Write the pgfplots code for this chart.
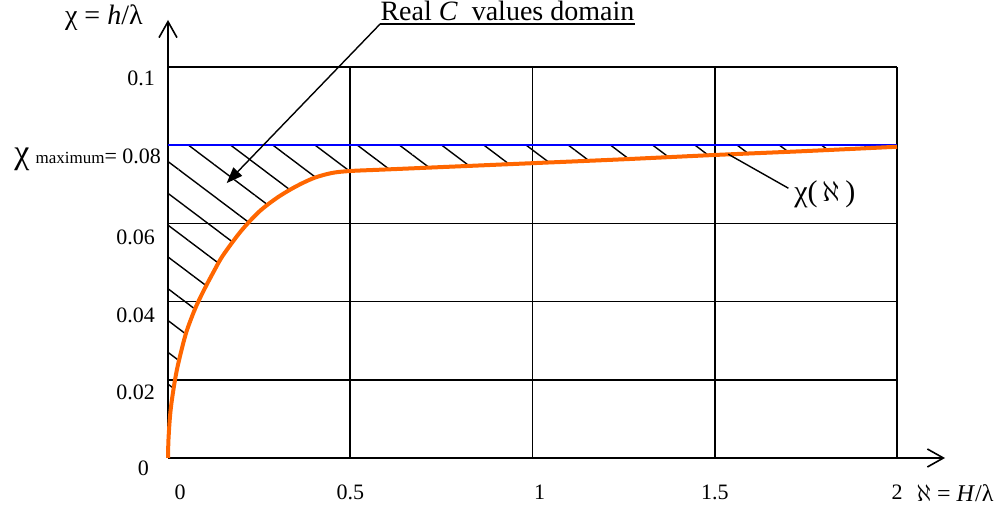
\documentclass[border=0pt]{standalone}
\usepackage{fontspec}
\setmainfont{Liberation Serif}
\usepackage{pgfplots}
\pgfplotsset{compat=1.18}
\usepgfplotslibrary{fillbetween}
\usetikzlibrary{patterns.meta,arrows.meta}
\definecolor{curveor}{RGB}{255,102,0}
\begin{document}
\begin{tikzpicture}
\begin{axis}[
  name=ax,
  scale only axis, width=364.5pt, height=195.5pt,
  xmin=0,xmax=2,ymin=0,ymax=0.1,
  enlargelimits=false,
  clip=false,
  axis lines=left,
  axis line style={line width=0.8pt},
  x axis line style={-{Straight Barb[length=8pt,width=9pt,line width=0.8pt]}, shorten >=-24pt},
  y axis line style={-{Straight Barb[length=8pt,width=9pt,line width=0.8pt]}, shorten >=-23.5pt},
  xtick={0,0.5,1,1.5,2},
  ytick={0,0.02,0.04,0.06,0.08,0.1},
  xticklabels={\hspace*{12pt}0,0.5,\hspace*{7pt}1,1.5,2},
  yticklabels={\raisebox{3.5pt}{0}\hspace*{3pt},\raisebox{1.5pt}{0.02},\raisebox{0.5pt}{0.04},0.06,{{\fontsize{17}{17}\selectfont χ}\hspace{3pt}{\fontsize{8.5}{8.5}\selectfont maximum}= 0.08\hspace*{-3pt}},\raisebox{3pt}{0.1}},
  ticklabel style={font=\fontsize{11}{13}\selectfont},
  xticklabel style={yshift=-10pt},
  yticklabel style={xshift=-3pt, yshift=-7pt},
  major tick length=0pt,
  tick style={draw=none},
  grid=major,
  grid style={black, line width=0.8pt},
]
\addplot[name path=top, draw=blue, line width=1.3pt] coordinates {(0,0.08) (2,0.08)};
\addplot[name path=curve, draw=curveor, line width=2pt, smooth] coordinates {
(0,0) (0.0012,0.0045) (0.005,0.0101) (0.01,0.0144) (0.02,0.0204) (0.03,0.0249) (0.05,0.0321)
(0.075,0.0383) (0.1,0.0432) (0.125,0.0476) (0.15,0.0517) (0.2,0.0580) (0.25,0.0630)
(0.3,0.0666) (0.35,0.0694) (0.4,0.0716) (0.45,0.0729) (0.5,0.0734)
(0.6,0.0738) (0.8,0.0746) (1.0,0.0754) (1.25,0.0764) (1.5,0.0775) (1.75,0.0785) (2.0,0.0796)};
\addplot[draw=none, pattern={Lines[angle=-37,distance=12.7pt,line width=0.7pt]}] fill between[of=top and curve];
\node[anchor=south west, inner xsep=0pt, inner ysep=1.5pt, font=\fontsize{14}{16}\selectfont] (lbl) at (axis cs:0.582,0.111) {Real \textit{C}\ \ values domain};
\draw[line width=0.7pt] (lbl.south west) -- (lbl.south east);
\draw[line width=0.7pt, -{Triangle[length=8pt,width=6pt]}] (lbl.south west) -- (axis cs:0.161,0.0703);
\node[font=\fontsize{15}{17}\selectfont] at (axis cs:1.802,0.0675) {χ(\,$\aleph$\,)};
\draw[line width=0.7pt] (axis cs:1.537,0.0777) -- (axis cs:1.702,0.0690);
\node[font=\fontsize{14}{16}\selectfont] at (axis cs:-0.176,0.1125) {χ = \textit{h}/λ};
\node[font=\fontsize{12}{14}\selectfont] at (axis cs:2.159,-0.009) {$\aleph$ = \textit{H}/λ};
\end{axis}
\pgfresetboundingbox
\path ([xshift=-84pt,yshift=-27pt]ax.south west) rectangle ([xshift=51.5pt,yshift=33.5pt]ax.north east);
\end{tikzpicture}
\end{document}
